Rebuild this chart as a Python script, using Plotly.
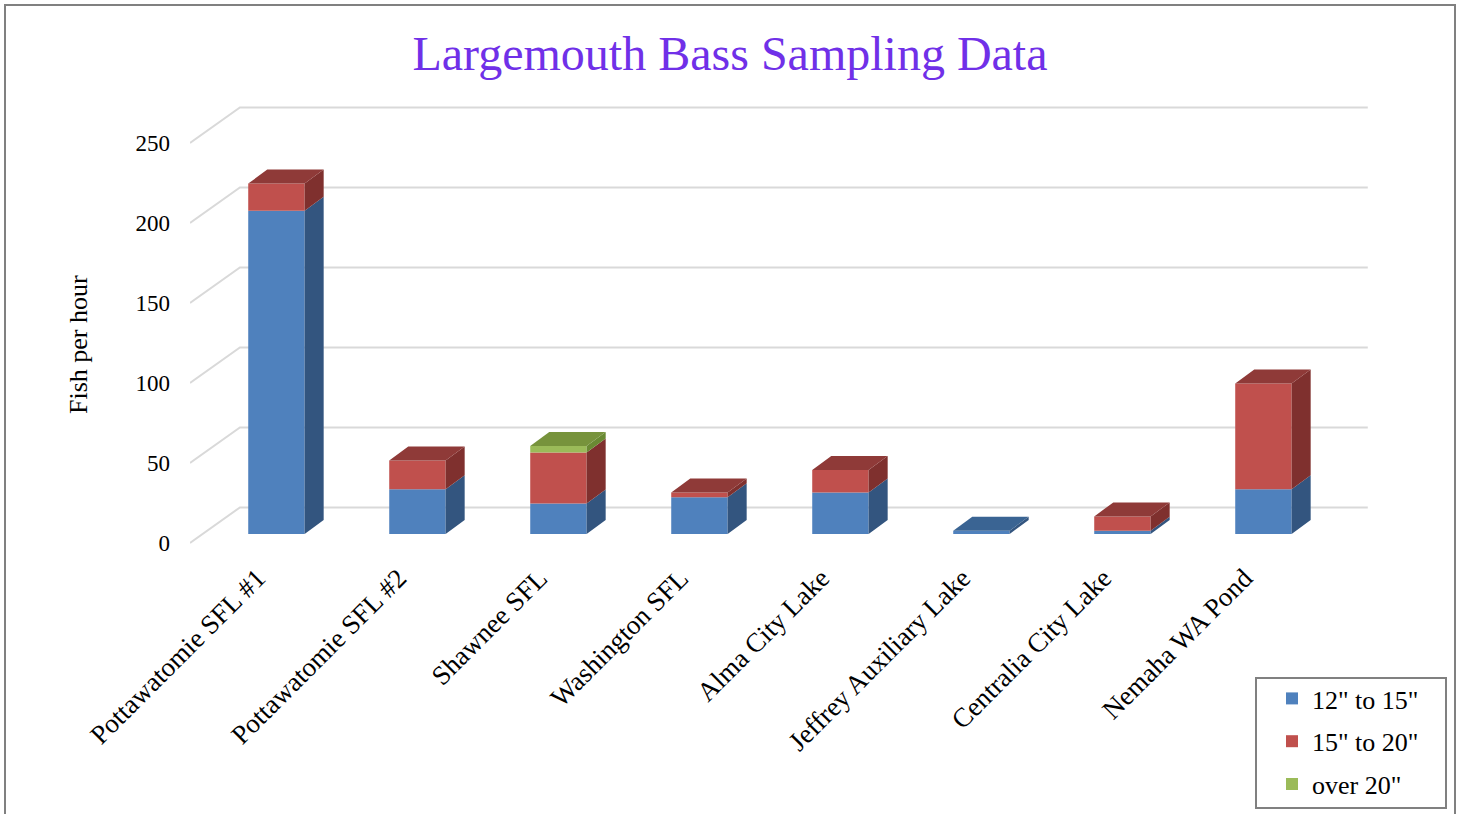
import plotly.graph_objects as go

categories = ["Pottawatomie SFL #1", "Pottawatomie SFL #2", "Shawnee SFL", "Washington SFL",
              "Alma City Lake", "Jeffrey Auxiliary Lake", "Centralia City Lake", "Nemaha WA Pond"]
series_names = ['12" to 15"', '15" to 20"', 'over 20"']
s12_15 = [202, 28, 19, 23, 26, 2, 2, 28]
s15_20 = [17, 18, 32, 3, 14, 0, 9, 66]
s20_up = [0, 0, 4, 0, 0, 0, 0, 0]
y_ticks = [0, 50, 100, 150, 200, 250]

front_colors = ["#4F81BD", "#C0504D", "#9BBB59"]
side_colors = ["#33557F", "#7F302E", "#6A8A33"]
top_colors = ["#3A6493", "#8F3A38", "#77933C"]

BAR_W = 0.4
DX = 0.135      # depth offset (x units)
DY = 8.75       # depth offset (y units)
FLOOR_FRONT = -5.6
WALL_BACK = 16.6
X_FRONT = -0.613
X_BACK = -0.259
X_RIGHT = 7.74

xs = list(range(len(categories)))
series = [s12_15, s15_20, s20_up]

fig = go.Figure()

shapes = []
# gridlines (floor diagonal + back wall)
for v in y_ticks:
    shapes.append(dict(type="path",
                       path=f"M {X_FRONT},{v + FLOOR_FRONT} L {X_BACK},{v + WALL_BACK} L {X_RIGHT},{v + WALL_BACK}",
                       xref="x", yref="y", line=dict(color="#D9D9D9", width=2), layer="below"))

# front faces
bases = [0.0] * len(xs)
seg_bounds = []
for si, vals in enumerate(series):
    fig.add_trace(go.Bar(x=xs, y=vals, base=bases[:], width=BAR_W, name=series_names[si],
                         marker=dict(color=front_colors[si], line=dict(width=0)),
                         legendgroup=series_names[si], hoverinfo="skip"))
    seg_bounds.append([(bases[i], bases[i] + vals[i]) for i in range(len(xs))])
    bases = [bases[i] + vals[i] for i in range(len(xs))]

# side faces
for si in range(len(series)):
    px, py = [], []
    for i, x in enumerate(xs):
        y0, y1 = seg_bounds[si][i]
        if y1 - y0 <= 0:
            continue
        xr = x + BAR_W / 2
        px += [xr, xr + DX, xr + DX, xr, xr, None]
        py += [y0, y0 + DY, y1 + DY, y1, y0, None]
    if px:
        fig.add_trace(go.Scatter(x=px, y=py, mode="lines", fill="toself", fillcolor=side_colors[si],
                                 line=dict(width=0, color=side_colors[si]), showlegend=False,
                                 hoverinfo="skip"))

# top faces (topmost non-empty segment)
for si in range(len(series)):
    px, py = [], []
    for i, x in enumerate(xs):
        top_si = max(k for k in range(len(series)) if series[k][i] > 0)
        if top_si != si:
            continue
        t = seg_bounds[si][i][1]
        xl, xr = x - BAR_W / 2, x + BAR_W / 2
        px += [xl, xl + DX, xr + DX, xr, xl, None]
        py += [t, t + DY, t + DY, t, t, None]
    if px:
        fig.add_trace(go.Scatter(x=px, y=py, mode="lines", fill="toself", fillcolor=top_colors[si],
                                 line=dict(width=0, color=top_colors[si]), showlegend=False,
                                 hoverinfo="skip"))

FONT = "Liberation Serif, Times New Roman, serif"
L, T, PW, PH = 190, 100, 1200, 460


def paper_x(p):
    return (p - L) / PW


def paper_y(p):
    return (T + PH - p) / PH


# outer chart frame and legend box
shapes.append(dict(type="path", xref="paper", yref="paper",
                   path="M %f,%f L %f,%f L %f,%f L %f,%f" % (
                       paper_x(5), paper_y(830), paper_x(5), paper_y(5),
                       paper_x(1455), paper_y(5), paper_x(1455), paper_y(830)),
                   line=dict(color="#808080", width=2), layer="above"))
shapes.append(dict(type="rect", xref="paper", yref="paper",
                   x0=paper_x(1256), x1=paper_x(1446), y0=paper_y(808), y1=paper_y(678),
                   line=dict(color="#808080", width=2), fillcolor="rgba(0,0,0,0)", layer="above"))

fig.update_layout(
    width=1460, height=814,
    paper_bgcolor="white", plot_bgcolor="white",
    margin=dict(l=L, r=1460 - L - PW, t=T, b=814 - T - PH, autoexpand=False),
    barmode="overlay",
    font=dict(family=FONT, size=22, color="black"),
    title=dict(text="Largemouth Bass Sampling Data", x=0.5, xanchor="center",
               y=1 - 53 / 814, yanchor="middle", yref="container",
               font=dict(family=FONT, size=48, color="#7030E8")),
    xaxis=dict(range=[X_FRONT, X_FRONT + PW / 141], tickmode="array", tickvals=xs, ticktext=categories,
               tickangle=-45, showgrid=False, zeroline=False, showline=False,
               ticklabelshift=-19, ticklabelstandoff=-4,
               tickfont=dict(family=FONT, size=27, color="black"), ticks=""),
    yaxis=dict(range=[-(T + PH - 534) / 1.6, (534 - T) / 1.6], tickmode="array",
               tickvals=[v + FLOOR_FRONT for v in y_ticks], ticktext=[str(v) for v in y_ticks],
               showgrid=False, zeroline=False, showline=False, ticks="",
               ticklabelstandoff=19,
               tickfont=dict(family=FONT, size=23, color="black")),
    annotations=[dict(text="Fish per hour", xref="paper", yref="paper",
                      x=paper_x(78), y=paper_y(345), xanchor="center", yanchor="middle",
                      textangle=-90, showarrow=False,
                      font=dict(family=FONT, size=26, color="black"))],
    legend=dict(x=paper_x(1272), y=paper_y(675), xanchor="left", yanchor="top",
                borderwidth=0, bgcolor="rgba(0,0,0,0)",
                traceorder="grouped", tracegroupgap=6,
                font=dict(family=FONT, size=26, color="black")),
    shapes=shapes,
)

fig.write_html("out.html", config={"displayModeBar": False},
               post_script="document.body.style.margin='0px';")
